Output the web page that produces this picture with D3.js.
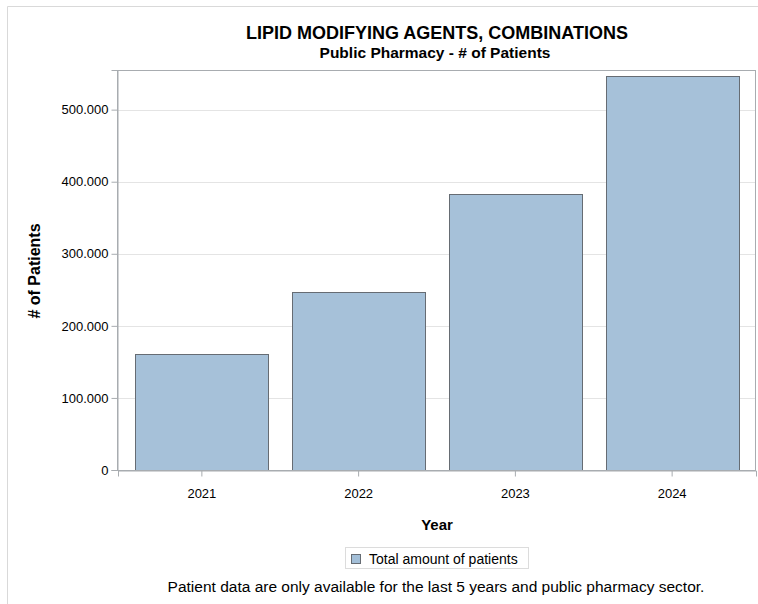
<!DOCTYPE html>
<html>
<head>
<meta charset="utf-8">
<script src="https://cdn.jsdelivr.net/npm/d3@7"></script>
<style>
  body { margin: 0; background: #fff; }
  text { font-family: "Liberation Sans", Arial, sans-serif; fill: #000; }
</style>
</head>
<body>
<svg width="758" height="604"></svg>
<script>
var years = ["2021", "2022", "2023", "2024"];
var patients = [161500, 247600, 382400, 546200];
var yTicks = [0, 100000, 200000, 300000, 400000, 500000];
var seriesName = "Total amount of patients";

var svg = d3.select("svg"),
    width = +svg.attr("width"),
    height = +svg.attr("height");

// plot box (note: "top" is taken by window.top)
var plotLeft = 118, plotRight = 756, plotTop = 70, plotBottom = 470;

// outer frame (top and left edges only)
svg.append("line").attr("x1", 7.5).attr("x2", width).attr("y1", 6.5).attr("y2", 6.5)
    .attr("stroke", "#d9d9d9");
svg.append("line").attr("x1", 7.5).attr("x2", 7.5).attr("y1", 6.5).attr("y2", height)
    .attr("stroke", "#d9d9d9");

var x = d3.scaleBand().domain(years).range([plotLeft, plotRight])
    .paddingInner(0.15).paddingOuter(0.11);
var y = d3.scaleLinear().domain([0, 555000]).range([plotBottom, plotTop]);

var fmt = function(d) { return d3.format(",")(d).replace(/,/g, "."); };

// gridlines
svg.append("g").selectAll("line")
    .data(yTicks.slice(1))
    .enter().append("line")
    .attr("x1", plotLeft).attr("x2", plotRight)
    .attr("y1", function(d) { return Math.round(y(d)) + 0.5; })
    .attr("y2", function(d) { return Math.round(y(d)) + 0.5; })
    .attr("stroke", "#e4e4e4");

// bars
svg.append("g").selectAll("rect")
    .data(patients)
    .enter().append("rect")
    .attr("x", function(d, i) { return Math.round(x(years[i])) + 0.5; })
    .attr("y", function(d) { return Math.round(y(d)) + 0.5; })
    .attr("width", Math.round(x.bandwidth()))
    .attr("height", function(d) { return plotBottom - Math.round(y(d)); })
    .attr("fill", "#a3bfd8")
    .attr("fill-opacity", 0.97)
    .attr("stroke", "#666c73")
    .attr("stroke-width", 1);

// plot frame
svg.append("rect")
    .attr("x", plotLeft - 0.5).attr("y", plotTop + 0.5)
    .attr("width", plotRight - plotLeft).attr("height", plotBottom - plotTop)
    .attr("fill", "none").attr("stroke", "#a8acb0");

// axes
var yAxis = svg.append("g")
    .attr("transform", "translate(" + (plotLeft - 0.5) + ",0)")
    .call(d3.axisLeft(y).tickValues(yTicks).tickFormat(fmt).tickSize(6).tickPadding(3));
var xAxis = svg.append("g")
    .attr("transform", "translate(0," + (plotBottom + 0.5) + ")")
    .call(d3.axisBottom(x).tickSize(6).tickPadding(12));
[yAxis, xAxis].forEach(function(a) {
  a.select(".domain").attr("stroke", "#a8acb0");
  a.selectAll(".tick line").attr("stroke", "#a8acb0");
  a.selectAll(".tick text").attr("font-size", 13).attr("fill", "#000")
    .attr("font-family", "'Liberation Sans', Arial, sans-serif");
});

// titles
svg.append("text").attr("x", 437).attr("y", 38.5).attr("text-anchor", "middle")
    .attr("font-size", 18).attr("font-weight", "bold")
    .text("LIPID MODIFYING AGENTS, COMBINATIONS");
svg.append("text").attr("x", 435).attr("y", 58).attr("text-anchor", "middle")
    .attr("font-size", 15.5).attr("font-weight", "bold")
    .text("Public Pharmacy - # of Patients");
svg.append("text").attr("x", 437).attr("y", 530).attr("text-anchor", "middle")
    .attr("font-size", 15).attr("font-weight", "bold").text("Year");
svg.append("text").attr("transform", "translate(40,271) rotate(-90)")
    .attr("text-anchor", "middle")
    .attr("font-size", 16).attr("font-weight", "bold").text("# of Patients");

// legend
var lg = svg.append("g");
lg.append("rect").attr("x", 345.5).attr("y", 547.5).attr("width", 183).attr("height", 21)
    .attr("fill", "#fff").attr("stroke", "#dcdcdc");
lg.append("rect").attr("x", 351.5).attr("y", 554.5).attr("width", 9).attr("height", 9)
    .attr("fill", "#a3bfd8").attr("stroke", "#666c73");
lg.append("text").attr("x", 369).attr("y", 563.5).attr("font-size", 14).text(seriesName);

svg.append("text").attr("x", 436).attr("y", 592).attr("text-anchor", "middle")
    .attr("font-size", 15.5)
    .text("Patient data are only available for the last 5 years and public pharmacy sector.");
</script>
</body>
</html>
